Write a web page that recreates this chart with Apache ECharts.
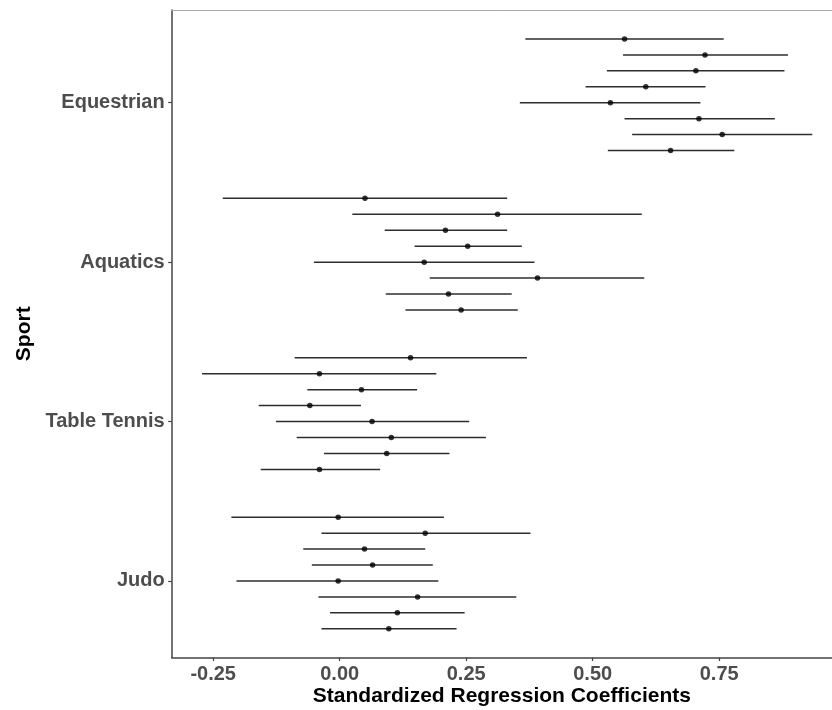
<!DOCTYPE html>
<html><head><meta charset="utf-8">
<script src="https://cdn.jsdelivr.net/npm/echarts@6/dist/echarts.min.js"></script>
<style>html,body{margin:0;padding:0;background:#fff}#c{width:832px;height:710px}</style>
</head><body><div id="c"></div>
<script>
// Categories (top to bottom)
const sports = ['Equestrian', 'Aquatics', 'Table Tennis', 'Judo'];
const xTicks = [-0.25, 0, 0.25, 0.5, 0.75];

// Estimates and 95% intervals, 8 models per sport (top to bottom)
const estEquestrian = [0.563, 0.722, 0.704, 0.605, 0.535, 0.710, 0.756, 0.654];
const loEquestrian  = [0.367, 0.560, 0.528, 0.486, 0.356, 0.563, 0.578, 0.530];
const hiEquestrian  = [0.759, 0.886, 0.879, 0.723, 0.713, 0.860, 0.934, 0.780];

const estAquatics = [0.050, 0.312, 0.209, 0.253, 0.167, 0.391, 0.215, 0.240];
const loAquatics  = [-0.231, 0.025, 0.089, 0.148, -0.051, 0.178, 0.091, 0.130];
const hiAquatics  = [0.331, 0.597, 0.331, 0.360, 0.385, 0.602, 0.340, 0.352];

const estTableTennis = [0.140, -0.040, 0.043, -0.059, 0.064, 0.102, 0.093, -0.040];
const loTableTennis  = [-0.089, -0.272, -0.064, -0.160, -0.126, -0.085, -0.031, -0.156];
const hiTableTennis  = [0.370, 0.191, 0.153, 0.042, 0.256, 0.289, 0.217, 0.080];

const estJudo = [-0.003, 0.169, 0.049, 0.065, -0.003, 0.154, 0.114, 0.097];
const loJudo  = [-0.214, -0.036, -0.072, -0.055, -0.204, -0.042, -0.019, -0.036];
const hiJudo  = [0.206, 0.377, 0.169, 0.184, 0.195, 0.349, 0.247, 0.231];

const groups = [
  [estEquestrian, loEquestrian, hiEquestrian],
  [estAquatics, loAquatics, hiAquatics],
  [estTableTennis, loTableTennis, hiTableTennis],
  [estJudo, loJudo, hiJudo]
];

// dodge layout
const dodge = 0.1;
const points = [], bars = [];
groups.forEach(function (g, i) {
  g[0].forEach(function (est, k) {
    const y = (i + 1) + (k - 4) * dodge;
    points.push([est, y]);
    bars.push([g[1][k], g[2][k], y]);
  });
});

const FONT = 'Liberation Sans, Arial, sans-serif';
const xMin = -0.332, xMax = 0.973;

const chart = echarts.init(document.getElementById('c'), null, { renderer: 'canvas' });
chart.setOption({
  animation: false,
  backgroundColor: '#ffffff',
  grid: { left: 171.7, top: 10, right: 0, height: 647.5, containLabel: false, outerBoundsMode: 'none' },
  xAxis: [{
    type: 'value', min: xMin, max: xMax, position: 'bottom',
    name: 'Standardized Regression Coefficients', nameLocation: 'middle', nameGap: 28, nameMoveOverlap: false,
    nameTextStyle: { fontFamily: FONT, fontWeight: 'bold', fontSize: 21, color: '#000' },
    splitLine: { show: false },
    axisLine: { show: true, onZero: false, lineStyle: { color: '#444', width: 1.5 } },
    axisTick: { show: true, length: 3.5, lineStyle: { color: '#444', width: 1.2 }, customValues: xTicks },
    axisLabel: { customValues: xTicks, margin: 7, fontFamily: FONT, fontWeight: 'bold', fontSize: 20, color: '#4d4d4d',
      formatter: function (v) { return v.toFixed(2); } }
  }, {
    type: 'value', min: xMin, max: xMax, position: 'top',
    splitLine: { show: false },
    axisLine: { show: true, onZero: false, lineStyle: { color: '#aaaaaa', width: 1 } },
    axisTick: { show: false }, axisLabel: { show: false }
  }],
  yAxis: {
    type: 'value', min: 0.4185, max: 4.48, inverse: true,
    name: 'Sport', nameLocation: 'middle', nameGap: 137, nameRotate: 90,
    nameTextStyle: { fontFamily: FONT, fontWeight: 'bold', fontSize: 21, color: '#000' },
    splitLine: { show: false },
    axisLine: { show: true, onZero: false, lineStyle: { color: '#444', width: 1.5 } },
    axisTick: { show: true, length: 3.5, lineStyle: { color: '#444', width: 1.2 }, customValues: [1, 2, 3, 4] },
    axisLabel: { customValues: [1, 2, 3, 4], margin: 7, fontFamily: FONT, fontWeight: 'bold', fontSize: 20, color: '#4d4d4d',
      formatter: function (v) { return sports[Math.round(v) - 1] || ''; } }
  },
  series: [{
    type: 'custom', xAxisIndex: 0, yAxisIndex: 0,
    data: bars,
    encode: { x: [0, 1], y: 2 },
    renderItem: function (params, api) {
      const p1 = api.coord([api.value(0), api.value(2)]);
      const p2 = api.coord([api.value(1), api.value(2)]);
      return { type: 'line', shape: { x1: p1[0], y1: p1[1], x2: p2[0], y2: p2[1] },
        style: { stroke: '#2e2e2e', lineWidth: 1.5 } };
    },
    z: 2
  }, {
    type: 'scatter', xAxisIndex: 0, yAxisIndex: 0,
    data: points, symbol: 'circle', symbolSize: 5.5,
    itemStyle: { color: '#000' }, z: 3
  }]
});
</script></body></html>
